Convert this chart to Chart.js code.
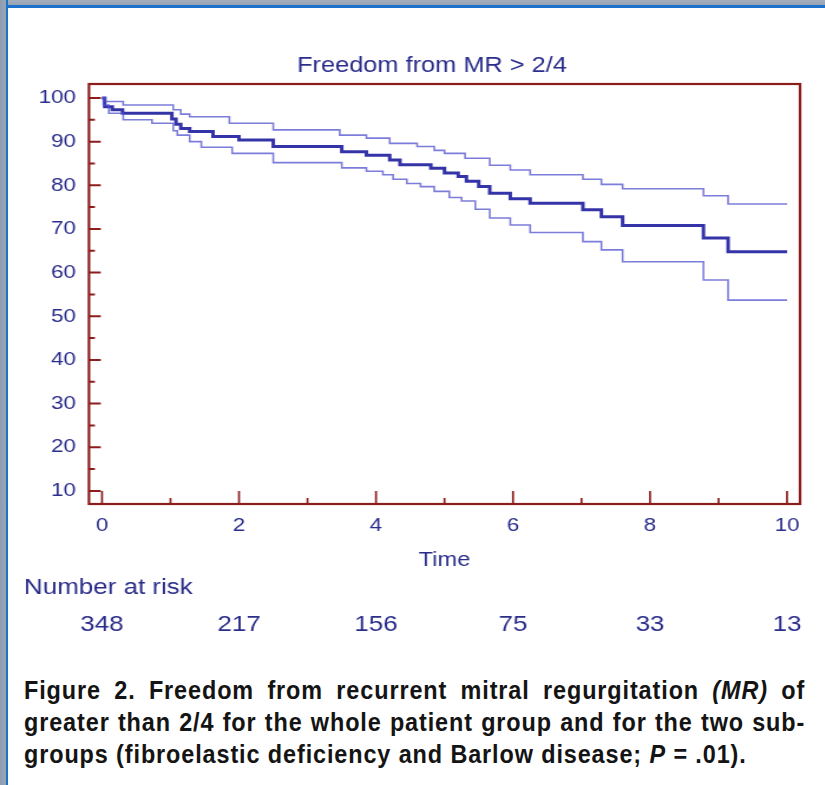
<!DOCTYPE html>
<html>
<head>
<meta charset="utf-8">
<script src="https://cdn.jsdelivr.net/npm/chart.js@4.4.0/dist/chart.umd.min.js"></script>
<style>
html, body { margin:0; padding:0; width:825px; height:785px; background:#fff; overflow:hidden; }
#frameTop { position:absolute; left:0; top:0; width:825px; height:8px;
  background:linear-gradient(#a4adba 0, #98a3b3 5px, #1c72cb 5px, #1c72cb 8px); }
#frameLeft { position:absolute; left:0; top:0; width:8px; height:785px;
  background:linear-gradient(90deg, #8e9cb1 0, #9aa6b6 6px, #1c72cb 6px, #1c72cb 8px); }
/* the source picture is stretched sideways, so the chart is drawn narrow and scaled */
#stretch { position:absolute; left:0; top:0; width:699px; height:650px;
  transform:scaleX(1.18); transform-origin:0 0; }
/* caption font is a condensed bold, squeeze a normal bold instead */
#caption { position:absolute; left:24px; top:674px; width:868px; color:#141414;
  transform:scaleX(0.9); transform-origin:0 0;
  font-family:"Liberation Sans", Arial, sans-serif; font-weight:bold;
  font-size:26px; line-height:32px; letter-spacing:1px; }
#caption .just { text-align:justify; text-align-last:justify; }
</style>
</head>
<body>
<div id="frameTop"></div>
<div id="frameLeft"></div>
<div id="stretch"><canvas id="kmChart"></canvas></div>
<div id="caption">
  <div class="just">Figure 2. Freedom from recurrent mitral regurgitation <i>(MR)</i> of</div>
  <div class="just">greater than 2/4 for the whole patient group and for the two sub-</div>
  <div>groups (fibroelastic deficiency and Barlow disease; <i>P</i> = .01).</div>
</div>
<script>
// colours
const navyText = "#2a2d8a";
const frameRed = "#8c1d1d";
const mainBlue = "#3434a8";
const ciBlue = "rgba(80,80,205,0.75)";

const chartTitle = "Freedom from MR > 2/4";

// Kaplan-Meier estimate (time in years, % free from MR > 2/4)
var mainTime = [0, 0.04, 0.15, 0.30, 1.02, 1.08, 1.15, 1.28, 1.62, 2.00, 2.50, 3.50, 3.86, 4.20, 4.35, 4.80, 5.00, 5.20, 5.32, 5.50, 5.66, 5.96, 6.25, 7.02, 7.29, 7.60, 8.78, 9.14, 10.0];
var mainSurv = [100, 98.0, 97.3, 96.5, 95.2, 94.0, 93.0, 92.3, 91.2, 90.4, 88.9, 87.7, 86.9, 85.8, 84.7, 83.9, 82.8, 82.0, 80.9, 79.7, 78.2, 76.9, 75.9, 74.4, 72.8, 70.8, 67.9, 64.8, 64.8];

// upper confidence limit
var upperTime = [0, 0.05, 0.31, 1.04, 1.15, 1.28, 1.86, 2.50, 3.47, 3.86, 4.20, 4.60, 4.85, 5.00, 5.30, 5.66, 5.96, 6.25, 7.02, 7.29, 7.60, 8.78, 9.14, 10.0];
var upperSurv = [100, 99.2, 98.4, 97.3, 96.3, 95.7, 94.2, 92.7, 91.5, 90.8, 89.6, 88.9, 88.0, 87.3, 86.2, 84.6, 83.5, 82.4, 81.4, 80.2, 79.2, 77.6, 75.7, 75.7];

// lower confidence limit
var lowerTime = [0, 0.02, 0.10, 0.31, 0.73, 1.04, 1.10, 1.28, 1.45, 1.90, 2.50, 3.50, 3.86, 4.10, 4.25, 4.45, 4.65, 4.85, 5.07, 5.25, 5.45, 5.66, 5.96, 6.25, 7.02, 7.29, 7.60, 8.78, 9.14, 10.0];
var lowerSurv = [100, 98.4, 96.5, 95.0, 94.2, 92.5, 91.5, 90.0, 88.7, 87.3, 85.2, 84.0, 83.2, 82.4, 81.4, 80.4, 79.7, 78.6, 77.2, 76.4, 74.5, 72.5, 70.9, 69.2, 67.1, 65.2, 62.5, 58.3, 53.7, 53.7];

// number at risk table
var riskTimes = [0, 2, 4, 6, 8, 10];
var riskCounts = [348, 217, 156, 75, 33, 13];

// axis ticks
var xMajorTicks = [0, 2, 4, 6, 8, 10];
var xMinorTicks = [1, 3, 5, 7, 9];
var yMajorTicks = [10, 20, 30, 40, 50, 60, 70, 80, 90, 100];
var yMinorTicks = [15, 25, 35, 45, 55, 65, 75, 85, 95];

function toPoints(times, values) {
    var pts = [];
    for (var i = 0; i < times.length; i++) {
        pts.push({ x: times[i], y: values[i] });
    }
    return pts;
}

Chart.defaults.font.family = 'Arial, "Liberation Sans", sans-serif';

// frame box, inward ticks, title (sits a bit left of the plot centre) and the at-risk row
var kmDecor = {
    id: "kmDecor",
    beforeDatasetsDraw: function (chart) {
        var ctx = chart.ctx, area = chart.chartArea;
        var xs = chart.scales.x, ys = chart.scales.y;
        ctx.save();
        ctx.strokeStyle = frameRed;
        ctx.lineWidth = 2;
        ctx.beginPath();
        yMajorTicks.forEach(function (v) {
            var py = ys.getPixelForValue(v);
            ctx.moveTo(area.left, py); ctx.lineTo(area.left + 10, py);
        });
        yMinorTicks.forEach(function (v) {
            var py = ys.getPixelForValue(v);
            ctx.moveTo(area.left, py); ctx.lineTo(area.left + 5, py);
        });
        ctx.stroke();
        ctx.lineWidth = 1.7;
        ctx.beginPath();
        xMajorTicks.forEach(function (v) {
            var px = xs.getPixelForValue(v);
            ctx.moveTo(px, area.bottom); ctx.lineTo(px, area.bottom - 13);
        });
        xMinorTicks.forEach(function (v) {
            var px = xs.getPixelForValue(v);
            ctx.moveTo(px, area.bottom); ctx.lineTo(px, area.bottom - 6);
        });
        ctx.stroke();
        ctx.lineWidth = 2.2;
        ctx.strokeRect(area.left, area.top, area.right - area.left, area.bottom - area.top);
        ctx.restore();
    },
    afterDraw: function (chart) {
        var ctx = chart.ctx, area = chart.chartArea, xs = chart.scales.x;
        ctx.save();
        ctx.fillStyle = navyText;
        ctx.textBaseline = "middle";
        ctx.textAlign = "center";
        ctx.font = '21.5px Arial, "Liberation Sans", sans-serif';
        ctx.fillText(chartTitle, (area.left + area.right) / 2 - 10.6, area.top - 18);

        ctx.font = '22px Arial, "Liberation Sans", sans-serif';
        ctx.textAlign = "left";
        ctx.fillText("Number at risk", 20.3, 588);
        ctx.textAlign = "center";
        for (var i = 0; i < riskTimes.length; i++) {
            ctx.fillText(String(riskCounts[i]), xs.getPixelForValue(riskTimes[i]), 625);
        }
        ctx.restore();
    }
};

new Chart(document.getElementById("kmChart"), {
    type: "line",
    data: {
        datasets: [
            { data: toPoints(upperTime, upperSurv), borderColor: ciBlue, borderWidth: 1.6, stepped: true, pointRadius: 0 },
            { data: toPoints(lowerTime, lowerSurv), borderColor: ciBlue, borderWidth: 1.6, stepped: true, pointRadius: 0 },
            { data: toPoints(mainTime, mainSurv), borderColor: mainBlue, borderWidth: 3, stepped: true, pointRadius: 0 }
        ]
    },
    options: {
        responsive: true,
        maintainAspectRatio: false,
        animation: false,
        layout: { padding: { left: 0, right: 21, top: 84, bottom: 78 } },
        plugins: {
            legend: { display: false },
            tooltip: { enabled: false },
            title: { display: false }
        },
        scales: {
            x: {
                type: "linear",
                min: -0.19,
                max: 10.19,
                afterBuildTicks: function (scale) {
                    scale.ticks = xMajorTicks.map(function (v) { return { value: v }; });
                },
                afterFit: function (scale) { scale.height = 68; },
                grid: { display: false, drawTicks: false },
                border: { display: false },
                ticks: { color: navyText, font: { size: 19 }, padding: 10, maxRotation: 0, autoSkip: false },
                title: { display: true, text: "Time", color: navyText, font: { size: 20 }, padding: { top: 11, bottom: 0 } }
            },
            y: {
                type: "linear",
                min: 7,
                max: 103.2,
                afterBuildTicks: function (scale) {
                    scale.ticks = yMajorTicks.map(function (v) { return { value: v }; });
                },
                afterFit: function (scale) { scale.width = 75.4; },
                grid: { display: false, drawTicks: false },
                border: { display: false },
                ticks: { color: navyText, font: { size: 19 }, padding: 11, autoSkip: false }
            }
        }
    },
    plugins: [kmDecor]
});
</script>
</body>
</html>
